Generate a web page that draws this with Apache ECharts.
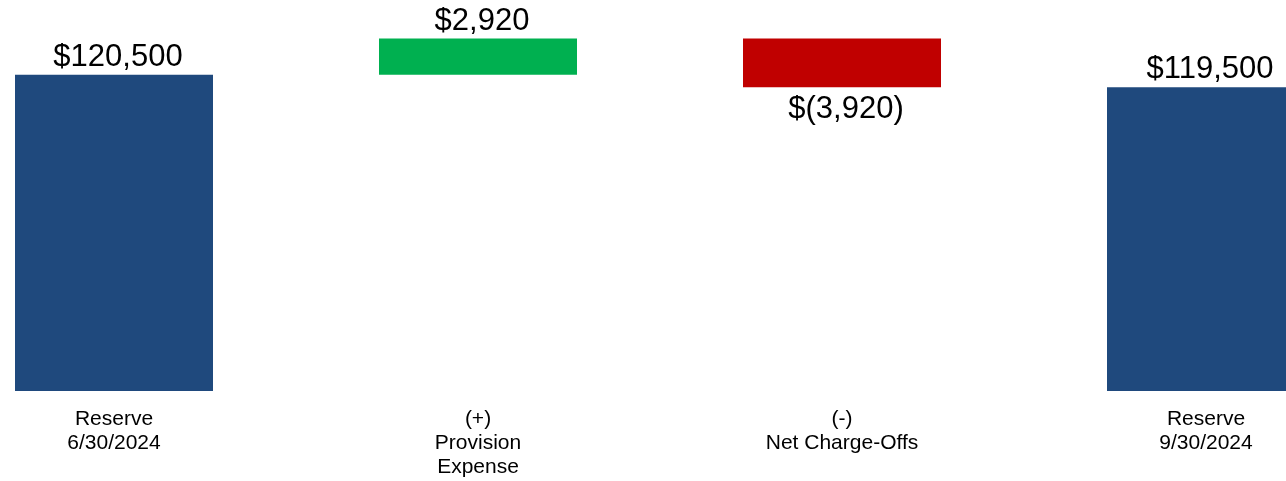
<!DOCTYPE html>
<html>
<head>
<meta charset="utf-8">
<style>
  html, body { margin: 0; padding: 0; background: #ffffff; }
  #chart { width: 1286px; height: 481px; }
</style>
<script src="https://cdn.jsdelivr.net/npm/echarts@6/dist/echarts.min.js"></script>
</head>
<body>
<div id="chart"></div>
<script>
// Reserve roll-forward: opening balance, provision, net charge-offs, closing balance
const categories = ['Reserve\n6/30/2024', '(+)\nProvision\nExpense', '(-)\nNet Charge-Offs', 'Reserve\n9/30/2024'];
const amounts = [120500, 2920, -3920, 119500];
const kinds = ['total', 'change', 'change', 'total'];

const colors = { total: '#1F497D', up: '#00B050', down: '#C00000' };

// Invisible base and visible height for each waterfall step
const baseValues = [];
const barValues = [];
let running = 0;
amounts.forEach((v, i) => {
  if (kinds[i] === 'total') {
    baseValues.push(0);
    barValues.push(v);
    running = v;
  } else if (v >= 0) {
    baseValues.push(running);
    barValues.push(v);
    running += v;
  } else {
    running += v;
    baseValues.push(running);
    barValues.push(-v);
  }
});

function money(v) {
  const s = Math.abs(v).toLocaleString('en-US');
  return v < 0 ? '$(' + s + ')' : '$' + s;
}

const visibleData = barValues.map((h, i) => {
  const v = amounts[i];
  let color = colors.total;
  if (kinds[i] === 'change') color = v >= 0 ? colors.up : colors.down;
  return {
    value: h,
    itemStyle: { color: color },
    label: v < 0 ? { position: 'bottom', distance: 7 } : { position: 'top', distance: 2 }
  };
});

const chart = echarts.init(document.getElementById('chart'), null, { renderer: 'canvas' });
chart.setOption({
  animation: false,
  backgroundColor: '#ffffff',
  grid: { left: -68, right: -102, top: 19, bottom: 90, outerBoundsMode: 'none' },
  xAxis: {
    type: 'category',
    data: categories,
    axisLine: { show: false },
    axisTick: { show: false },
    axisLabel: {
      interval: 0,
      margin: 16,
      fontFamily: 'Liberation Sans, Arial, sans-serif',
      fontSize: 21,
      lineHeight: 24,
      color: '#000000',
      verticalAlign: 'top'
    }
  },
  yAxis: {
    type: 'value',
    min: 95000,
    max: 125000,
    show: false,
    splitLine: { show: false }
  },
  series: [
    {
      type: 'bar',
      stack: 'flow',
      barWidth: 198,
      silent: true,
      itemStyle: { color: 'rgba(0,0,0,0)' },
      data: baseValues
    },
    {
      type: 'bar',
      stack: 'flow',
      barWidth: 198,
      data: visibleData,
      label: {
        show: true,
        offset: [4, 0],
        fontFamily: 'Liberation Sans, Arial, sans-serif',
        fontSize: 31,
        color: '#000000',
        formatter: (p) => money(amounts[p.dataIndex])
      }
    }
  ]
});
</script>
</body>
</html>
